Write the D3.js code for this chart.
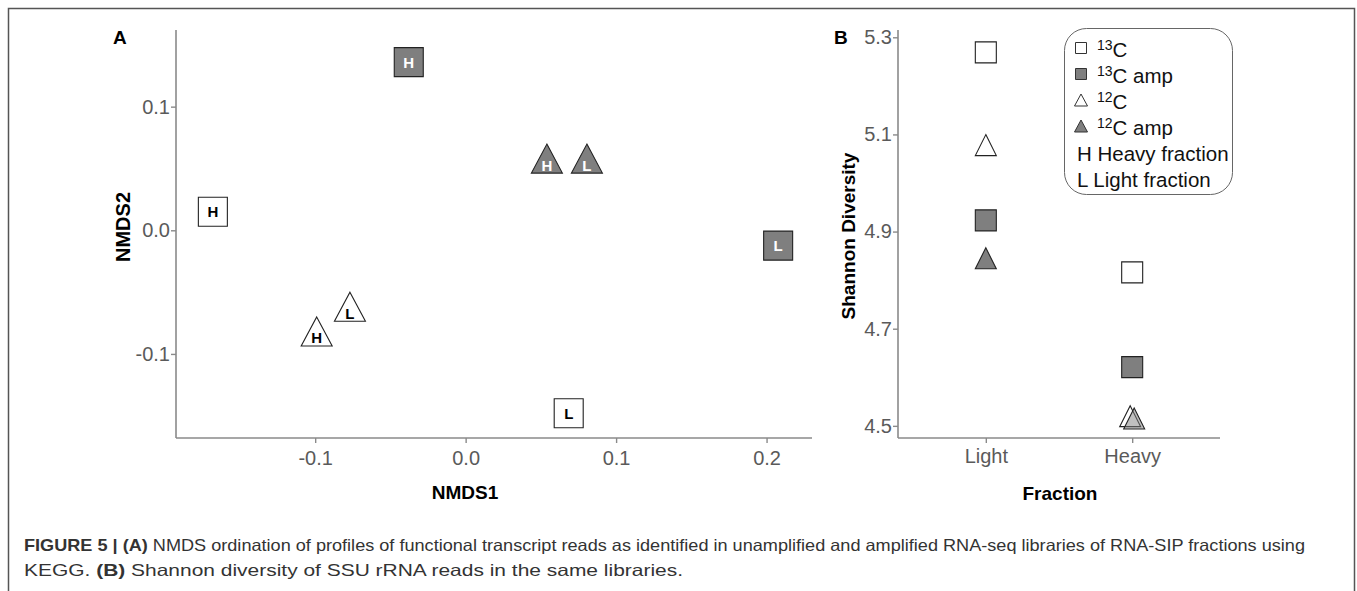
<!DOCTYPE html>
<html><head><meta charset="utf-8">
<script src="https://cdn.jsdelivr.net/npm/d3@7"></script>
<style>
html,body{margin:0;padding:0;background:#fff;}
svg{display:block;font-family:"Liberation Sans",Arial,sans-serif;}
</style></head>
<body>
<svg id="c" width="1357" height="591"></svg>
<script>
// ---- Panel A data (NMDS) ----
const nmdsLabels = ["H", "L", "H", "L", "H", "L", "H", "L"];
const nmdsGroups = ["13C", "13C", "13C amp", "13C amp", "12C", "12C", "12C amp", "12C amp"];
const nmds1 = [-0.168, 0.0685, -0.0378, 0.2077, -0.099, -0.0769, 0.054, 0.0806];
const nmds2 = [0.015, -0.148, 0.136, -0.0124, -0.0818, -0.0618, 0.058, 0.058];
const nmds1Ticks = [-0.1, 0.0, 0.1, 0.2];
const nmds2Ticks = [-0.1, 0.0, 0.1];

// ---- Panel B data (Shannon) ----
const fractions = ["Light", "Heavy"];
const shannon13C = [5.269, 4.816];
const shannon13Camp = [4.923, 4.621];
const shannon12C = [5.078, 4.52];
const shannon12Camp = [4.845, 4.515];
const shannonTicks = [4.5, 4.7, 4.9, 5.1, 5.3];

const legendItems = [
  {sym: "square", fill: "#fff", sup: "13", txt: "C"},
  {sym: "square", fill: "#7f7f7f", sup: "13", txt: "C amp"},
  {sym: "triangle", fill: "#fff", sup: "12", txt: "C"},
  {sym: "triangle", fill: "#7f7f7f", sup: "12", txt: "C amp"},
  {sym: "H", txt: "Heavy fraction"},
  {sym: "L", txt: "Light fraction"}
];

const groupStyle = {
  "13C": {shape: "square", fill: "#fff", text: "#000"},
  "13C amp": {shape: "square", fill: "#7f7f7f", text: "#fff"},
  "12C": {shape: "triangle", fill: "#fff", text: "#000"},
  "12C amp": {shape: "triangle", fill: "#7f7f7f", text: "#fff"}
};

const svg = d3.select("#c");
const axisCol = "#8a8a8a", tickTxt = "#5a5a5a";
const FONT = "Liberation Sans, Arial, sans-serif";

// outer frame (no bottom)
svg.append("path").attr("d", "M8.5,591 L8.5,8.5 L1354.5,8.5 L1354.5,591")
  .attr("fill", "none").attr("stroke", "#555").attr("stroke-width", 1.5);

function shapePath(shape, w, h) {
  if (shape === "square") return `M${-w/2},${-h/2}h${w}v${h}h${-w}Z`;
  return `M0,${-h/2}L${w/2},${h/2}L${-w/2},${h/2}Z`;
}

function styleAxis(g) {
  g.select(".domain").attr("stroke", axisCol).attr("stroke-width", 1.6);
  g.selectAll(".tick line").attr("stroke", axisCol).attr("stroke-width", 1.4);
  g.selectAll(".tick text").attr("fill", tickTxt).attr("font-size", 20).attr("font-family", FONT);
}
const fmt1 = d => d.toFixed(1);

// ---------------- Panel A ----------------
const ax = {l: 176, r: 812, t: 30, b: 438};
const xA = d3.scaleLinear().domain([-0.1925, 0.2302]).range([ax.l, ax.r]);
const yA = d3.scaleLinear().domain([-0.168, 0.162]).range([ax.b, ax.t]);

const gxA = svg.append("g").attr("transform", `translate(0,${ax.b})`)
  .call(d3.axisBottom(xA).tickValues(nmds1Ticks).tickFormat(fmt1).tickSizeOuter(0).tickSize(5).tickPadding(8));
styleAxis(gxA);
const gyA = svg.append("g").attr("transform", `translate(${ax.l},0)`)
  .call(d3.axisLeft(yA).tickValues(nmds2Ticks).tickFormat(fmt1).tickSizeOuter(0).tickSize(5).tickPadding(1));
styleAxis(gyA);
gxA.select(".domain").attr("d", `M${ax.l},0H${ax.r}`);
gyA.select(".domain").attr("d", `M0,${ax.b}V${ax.t}`);

svg.append("text").attr("x", 465).attr("y", 499).attr("text-anchor", "middle")
  .attr("font-weight", "bold").attr("font-size", 19).text("NMDS1");
svg.append("text").attr("transform", "translate(130,227) rotate(-90)").attr("text-anchor", "middle")
  .attr("font-weight", "bold").attr("font-size", 20).text("NMDS2");
svg.append("text").attr("x", 113).attr("y", 44).attr("font-weight", "bold").attr("font-size", 19).text("A");

const ptsA = nmds1.map((v, i) => ({x: v, y: nmds2[i], lab: nmdsLabels[i], grp: nmdsGroups[i]}));
const gA = svg.append("g").selectAll("g").data(ptsA).join("g")
  .attr("transform", d => `translate(${xA(d.x)},${yA(d.y)})`);
gA.append("path")
  .attr("d", d => groupStyle[d.grp].shape === "square" ? shapePath("square", 29, 29) : shapePath("triangle", 31, 29))
  .attr("fill", d => groupStyle[d.grp].fill).attr("stroke", "#222").attr("stroke-width", 1.1);
gA.append("text").attr("text-anchor", "middle")
  .attr("y", d => groupStyle[d.grp].shape === "square" ? 5.5 : 12)
  .attr("font-size", 15).attr("font-weight", "bold")
  .attr("fill", d => groupStyle[d.grp].text).text(d => d.lab);

// ---------------- Panel B ----------------
const bx = {l: 898, r: 1220, t: 30, b: 438};
// discrete positions with ggplot-like 0.6 expansion
const xPos = d3.scalePoint().domain(fractions).range([bx.l, bx.r]).padding(0.6);
const yB = d3.scaleLinear().domain([4.475, 5.315]).range([bx.b, bx.t]);

const gxB = svg.append("g").attr("transform", `translate(0,${bx.b})`)
  .call(d3.axisBottom(xPos).tickSizeOuter(0).tickSize(5).tickPadding(6));
styleAxis(gxB);
gxB.select(".domain").attr("d", `M${bx.l},0H${bx.r}`);
const gyB = svg.append("g").attr("transform", `translate(${bx.l},0)`)
  .call(d3.axisLeft(yB).tickValues(shannonTicks).tickFormat(fmt1).tickSizeOuter(0).tickSize(5).tickPadding(1));
styleAxis(gyB);
gyB.select(".domain").attr("d", `M0,${bx.b}V${bx.t}`);

svg.append("text").attr("x", 1060).attr("y", 500).attr("text-anchor", "middle")
  .attr("font-weight", "bold").attr("font-size", 19).text("Fraction");
svg.append("text").attr("transform", "translate(855,236) rotate(-90)").attr("text-anchor", "middle")
  .attr("font-weight", "bold").attr("font-size", 19).text("Shannon Diversity");
svg.append("text").attr("x", 834).attr("y", 44).attr("font-weight", "bold").attr("font-size", 19).text("B");

const seriesB = [
  {grp: "13C", vals: shannon13C, dx: 0},
  {grp: "12C", vals: shannon12C, dx: -2},
  {grp: "13C amp", vals: shannon13Camp, dx: 0},
  {grp: "12C amp", vals: shannon12Camp, dx: 2}
];
seriesB.forEach(s => {
  const st = groupStyle[s.grp];
  svg.append("g").selectAll("path").data(s.vals.map((v, i) => ({f: fractions[i], v})))
    .join("path")
    .attr("transform", d => {
      const overlap = d.f === "Heavy" && st.shape === "triangle";
      return `translate(${xPos(d.f) + (overlap ? s.dx : 0)},${yB(d.v)})`;
    })
    .attr("d", st.shape === "square" ? shapePath("square", 21, 21) : shapePath("triangle", 21, 21))
    .attr("fill", st.fill)
    .attr("fill-opacity", d => (d.f === "Heavy" && s.grp === "12C amp") ? 0.5 : 1)
    .attr("stroke", "#222").attr("stroke-width", 1.1);
});

// legend
const lg = svg.append("g");
lg.append("rect").attr("x", 1064.5).attr("y", 28.5).attr("width", 168).attr("height", 166)
  .attr("rx", 22).attr("ry", 22).attr("fill", "#fff").attr("stroke", "#666").attr("stroke-width", 1);
legendItems.forEach((it, i) => {
  const cy = 48 + i * 26;
  const g = lg.append("g");
  if (it.sym === "square") {
    g.append("path").attr("transform", `translate(1081,${cy})`).attr("d", shapePath("square", 11, 11))
      .attr("fill", it.fill).attr("stroke", "#333").attr("stroke-width", 1);
  } else if (it.sym === "triangle") {
    g.append("path").attr("transform", `translate(1081,${cy})`).attr("d", shapePath("triangle", 13, 12))
      .attr("fill", it.fill).attr("stroke", "#333").attr("stroke-width", 1);
  }
  if (it.sup) {
    const t = g.append("text").attr("x", 1097).attr("y", cy + 8.5).attr("font-size", 20.5).attr("fill", "#111");
    t.append("tspan").attr("font-size", 14).attr("dy", -7).text(it.sup);
    t.append("tspan").attr("dy", 7).text(it.txt);
  } else {
    const t = g.append("text").attr("x", 1077).attr("y", cy + 8.5).attr("font-size", 20.5).attr("fill", "#111");
    t.text(it.sym + " " + it.txt);
  }
});

// caption
const cap1 = svg.append("text").attr("x", 24).attr("y", 551).attr("font-size", 16.5).attr("fill", "#333")
  .attr("textLength", 1281).attr("lengthAdjust", "spacingAndGlyphs");
cap1.append("tspan").attr("font-weight", "bold").text("FIGURE 5 | (A)");
cap1.append("tspan").text(" NMDS ordination of profiles of functional transcript reads as identified in unamplified and amplified RNA-seq libraries of RNA-SIP fractions using");
const cap2 = svg.append("text").attr("x", 24).attr("y", 576).attr("font-size", 16.5).attr("fill", "#333")
  .attr("textLength", 659).attr("lengthAdjust", "spacingAndGlyphs");
cap2.append("tspan").text("KEGG. ");
cap2.append("tspan").attr("font-weight", "bold").text("(B)");
cap2.append("tspan").text(" Shannon diversity of SSU rRNA reads in the same libraries.");
</script>
</body></html>
